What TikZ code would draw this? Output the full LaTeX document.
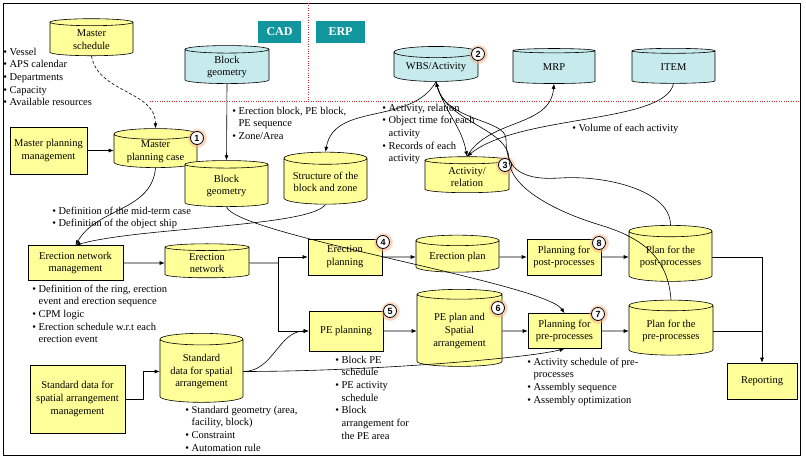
\documentclass[tikz,border=0pt]{standalone}
\usepackage{fontspec}
\setmainfont{Liberation Serif}
\newfontfamily\numfont{Liberation Sans}
\usepackage{tikz}
\usetikzlibrary{shapes.geometric, positioning, arrows.meta, shadows, calc}
\definecolor{dbyellow}{RGB}{255,255,153}
\definecolor{dbcyan}{RGB}{199,234,236}
\definecolor{systeal}{RGB}{18,150,158}
\definecolor{dotred}{RGB}{205,40,40}
\definecolor{glowor}{RGB}{250,175,130}
\newcommand{\itm}{\textbullet\ }
\newcommand{\cnt}{\phantom{\textbullet\ }}

\tikzset{
  >={Latex[length=5pt,width=4pt]},
  dbase/.style={cylinder, shape border rotate=90, draw, aspect=0.18, align=center, inner sep=1pt},
  ydb/.style 2 args={dbase, fill=dbyellow, minimum width=#1, minimum height=#2},
  cdb/.style 2 args={dbase, fill=dbcyan, minimum width=#1, minimum height=#2},
  procbox/.style 2 args={draw, fill=dbyellow, align=center, minimum width=#1, minimum height=#2, inner sep=1pt},
  sysbox/.style={fill=systeal, text=white, font=\fontsize{12}{14}\selectfont\bfseries, minimum width=#1, minimum height=22pt, inner sep=0pt},
  numc/.style={circle, draw, thick, fill=white, inner sep=0pt, minimum size=13pt, font=\numfont\bfseries\fontsize{9}{10}\selectfont, circular glow={fill=glowor, shadow scale=1.55, opacity=0.55}},
  notes/.style={align=left, anchor=north west, inner sep=0pt},
  reddots/.style={dotred, line width=1pt, dash pattern=on 1pt off 1.4pt},
}

\begin{document}
\begin{tikzpicture}[x=1pt, y=1pt, semithick, font=\fontsize{10.5}{12.7}\selectfont]
\useasboundingbox (0,0) rectangle (806,459);
\draw[thick] (3,4) rectangle (800,456);

% CAD / ERP split
\draw[reddots] (308,456) -- (308,359);
\draw[reddots] (150,358) -- (800,358);
\node[sysbox=43pt] (cad) at (279.5,427) {CAD};
\node[sysbox=49pt] (erp) at (340.5,427) {ERP};

% external databases
\node[cdb={84pt}{38pt}] (bgeoC) at (227,392) {Block\\geometry};
\node[cdb={84pt}{35pt}] (wbs) at (436,391.5) {WBS/Activity};
\node[cdb={82pt}{35pt}] (mrp) at (554,391.5) {MRP};
\node[cdb={83pt}{35pt}] (item) at (673.5,391.5) {ITEM};

% databases
\node[ydb={83pt}{37pt}] (mschedule) at (91.5,419.5) {Master\\schedule};
\node[ydb={83pt}{37pt}] (mpcase) at (155.5,307.5) {Master\\planning case};
\node[ydb={83pt}{46pt}] (bgeoY) at (226.5,273) {Block\\geometry};
\node[ydb={83pt}{52pt}] (structure) at (325.5,277) {Structure of the\\block and zone};
\node[ydb={84pt}{36pt}] (activity) at (467,282) {Activity/\\relation};
\node[ydb={84pt}{34pt}] (enet) at (207,196) {Erection\\network};
\node[ydb={83pt}{37pt}] (eplan) at (457.5,202) {Erection plan};
\node[ydb={83pt}{56pt}] (planpost) at (670.5,202) {Plan for the\\post-processes};
\node[ydb={85pt}{77pt}] (peplan) at (459.5,128) {PE plan and\\Spatial\\arrangement};
\node[ydb={84pt}{55pt}] (planpre) at (671,128) {Plan for the\\pre-processes};
\node[ydb={83pt}{69pt}] (stddata) at (201.5,87.5) {Standard\\data for spatial\\arrangement};

% process boxes
\node[procbox={77pt}{47pt}] (mpmgmt) at (48.5,308.5) {Master planning\\management};
\node[procbox={95pt}{35pt}] (enmgmt) at (75.5,196) {Erection network\\management};
\node[procbox={74pt}{36pt}] (eplanning) at (345,202) {Erection\\planning};
\node[procbox={74pt}{36pt}] (postplanning) at (564,202) {Planning for\\post-processes};
\node[procbox={74pt}{40pt}] (peplanning) at (346,128) {PE planning};
\node[procbox={73pt}{35pt}] (preplanning) at (564.5,128) {Planning for\\pre-processes};
\node[procbox={95pt}{68pt}] (stdmgmt) at (77.5,60) {Standard data for\\spatial arrangement\\management};
\node[procbox={70pt}{36pt}] (reporting) at (762,78) {Reporting};

% step numbers
\node[numc] (n1) at (197,321) {1};
\node[numc] (n2) at (478,405) {2};
\node[numc] (n3) at (505,294) {3};
\node[numc] (n4) at (383,217) {4};
\node[numc] (n5) at (390,148) {5};
\node[numc] (n6) at (498,151) {6};
\node[numc] (n7) at (598,145) {7};
\node[numc] (n8) at (599,216) {8};

% notes
\node[notes] (nmaster) at (3,411.5) {\itm Vessel\\ \itm APS calendar\\ \itm Departments\\ \itm Capacity\\ \itm Available resources};
\node[notes] (nbgeo) at (232,352.5) {\itm Erection block, PE block,\\ \cnt PE sequence\\ \itm Zone/Area};
\node[notes] (ncase) at (52,252.5) {\itm Definition of the mid-term case\\ \itm Definition of the object ship};
\node[notes] (nact) at (382,355.5) {\itm Activity, relation\\ \itm Object time for each\\ \cnt activity\\ \itm Records of each\\ \cnt activity};
\node[notes] (nvol) at (572,335.5) {\itm Volume of each activity};
\node[notes] (nring) at (32,174.5) {\itm Definition of the ring, erection\\ \cnt event and erection sequence\\ \itm CPM logic\\ \itm Erection schedule w.r.t each\\ \cnt erection event};
\node[notes] (npe) at (335,103.5) {\itm Block PE\\ \cnt schedule\\ \itm PE activity\\ \cnt schedule\\ \itm Block\\ \cnt arrangement for\\ \cnt the PE area};
\node[notes] (nstd) at (185,53.5) {\itm Standard geometry (area,\\ \cnt facility, block)\\ \itm Constraint\\ \itm Automation rule};
\node[notes] (npre) at (527,101.5) {\itm Activity schedule of pre-\\ \cnt processes\\ \itm Assembly sequence\\ \itm Assembly optimization};

% flow
\draw[->, dash pattern=on 3pt off 2pt] (mschedule.south) to[out=-80, in=90] (mpcase.north);
\draw[->] (mpmgmt.east) -- (mpcase.west |- mpmgmt.east);
\draw[->] (bgeoC.south) -- (bgeoY.north);
\draw[->] (mpcase.south) to[out=-95, in=60] (enmgmt.north);
\draw[->] (structure.south) .. controls (310,232) and (140,232) .. (enmgmt.north);
\draw[->] (bgeoY.south) .. controls +(10,-28) and +(-20,30) .. (preplanning.north);
\draw[->] (enmgmt.east) -- (enet.west);
\coordinate (fork) at (278,196);
\draw (enet.east) -- (fork);
\draw[->] (fork) |- (eplanning.west);
\draw[->] (fork) |- (peplanning.west);
\draw[->] (eplanning.east) -- (eplan.west);
\draw[->] (eplan.east) -- (postplanning.west);
\draw[->] (postplanning.east) -- (planpost.west);
\draw[->] (peplanning.east) -- (peplan.west);
\draw[->] (peplan.east) -- (preplanning.west);
\draw[->] (preplanning.east) -- (planpre.west);
\draw[->] (planpost.east) -| (reporting.north);
\draw (planpre.east) -- (planpre.east -| reporting.north);
\draw[->] (stdmgmt.east) -- ++(18,0) |- (stddata.west);
\draw[->] (stddata.east) to[out=0, in=180] (peplanning.west);
\draw[->] (stddata.east) .. controls +(120,0) and +(-40,-10) .. (preplanning.south);

% ERP links
\draw[->] (wbs.south) to[out=-120, in=80] (structure.north);
\draw[->] (wbs.south) to[out=-75, in=100] (activity.north);
\draw[->] (activity.north) to[out=60, in=-95] (mrp.south);
\draw[->] (item.south) .. controls (665,335) and (520,345) .. (activity.north);
\draw[->] (planpost.north) .. controls +(0,35) and +(45,3) .. (560,281)
  .. controls +(-45,-3) and +(0,-25) .. (506,320)
  .. controls +(0,20) and +(10,-40) .. (wbs.south);
\draw[->] (planpre.north) .. controls +(-3,44) and +(40,-12) .. (600,234)
  .. controls +(-40,12) and +(0,-30) .. (509,300)
  .. controls +(0,30) and +(10,-40) .. (wbs.south);
\end{tikzpicture}
\end{document}
